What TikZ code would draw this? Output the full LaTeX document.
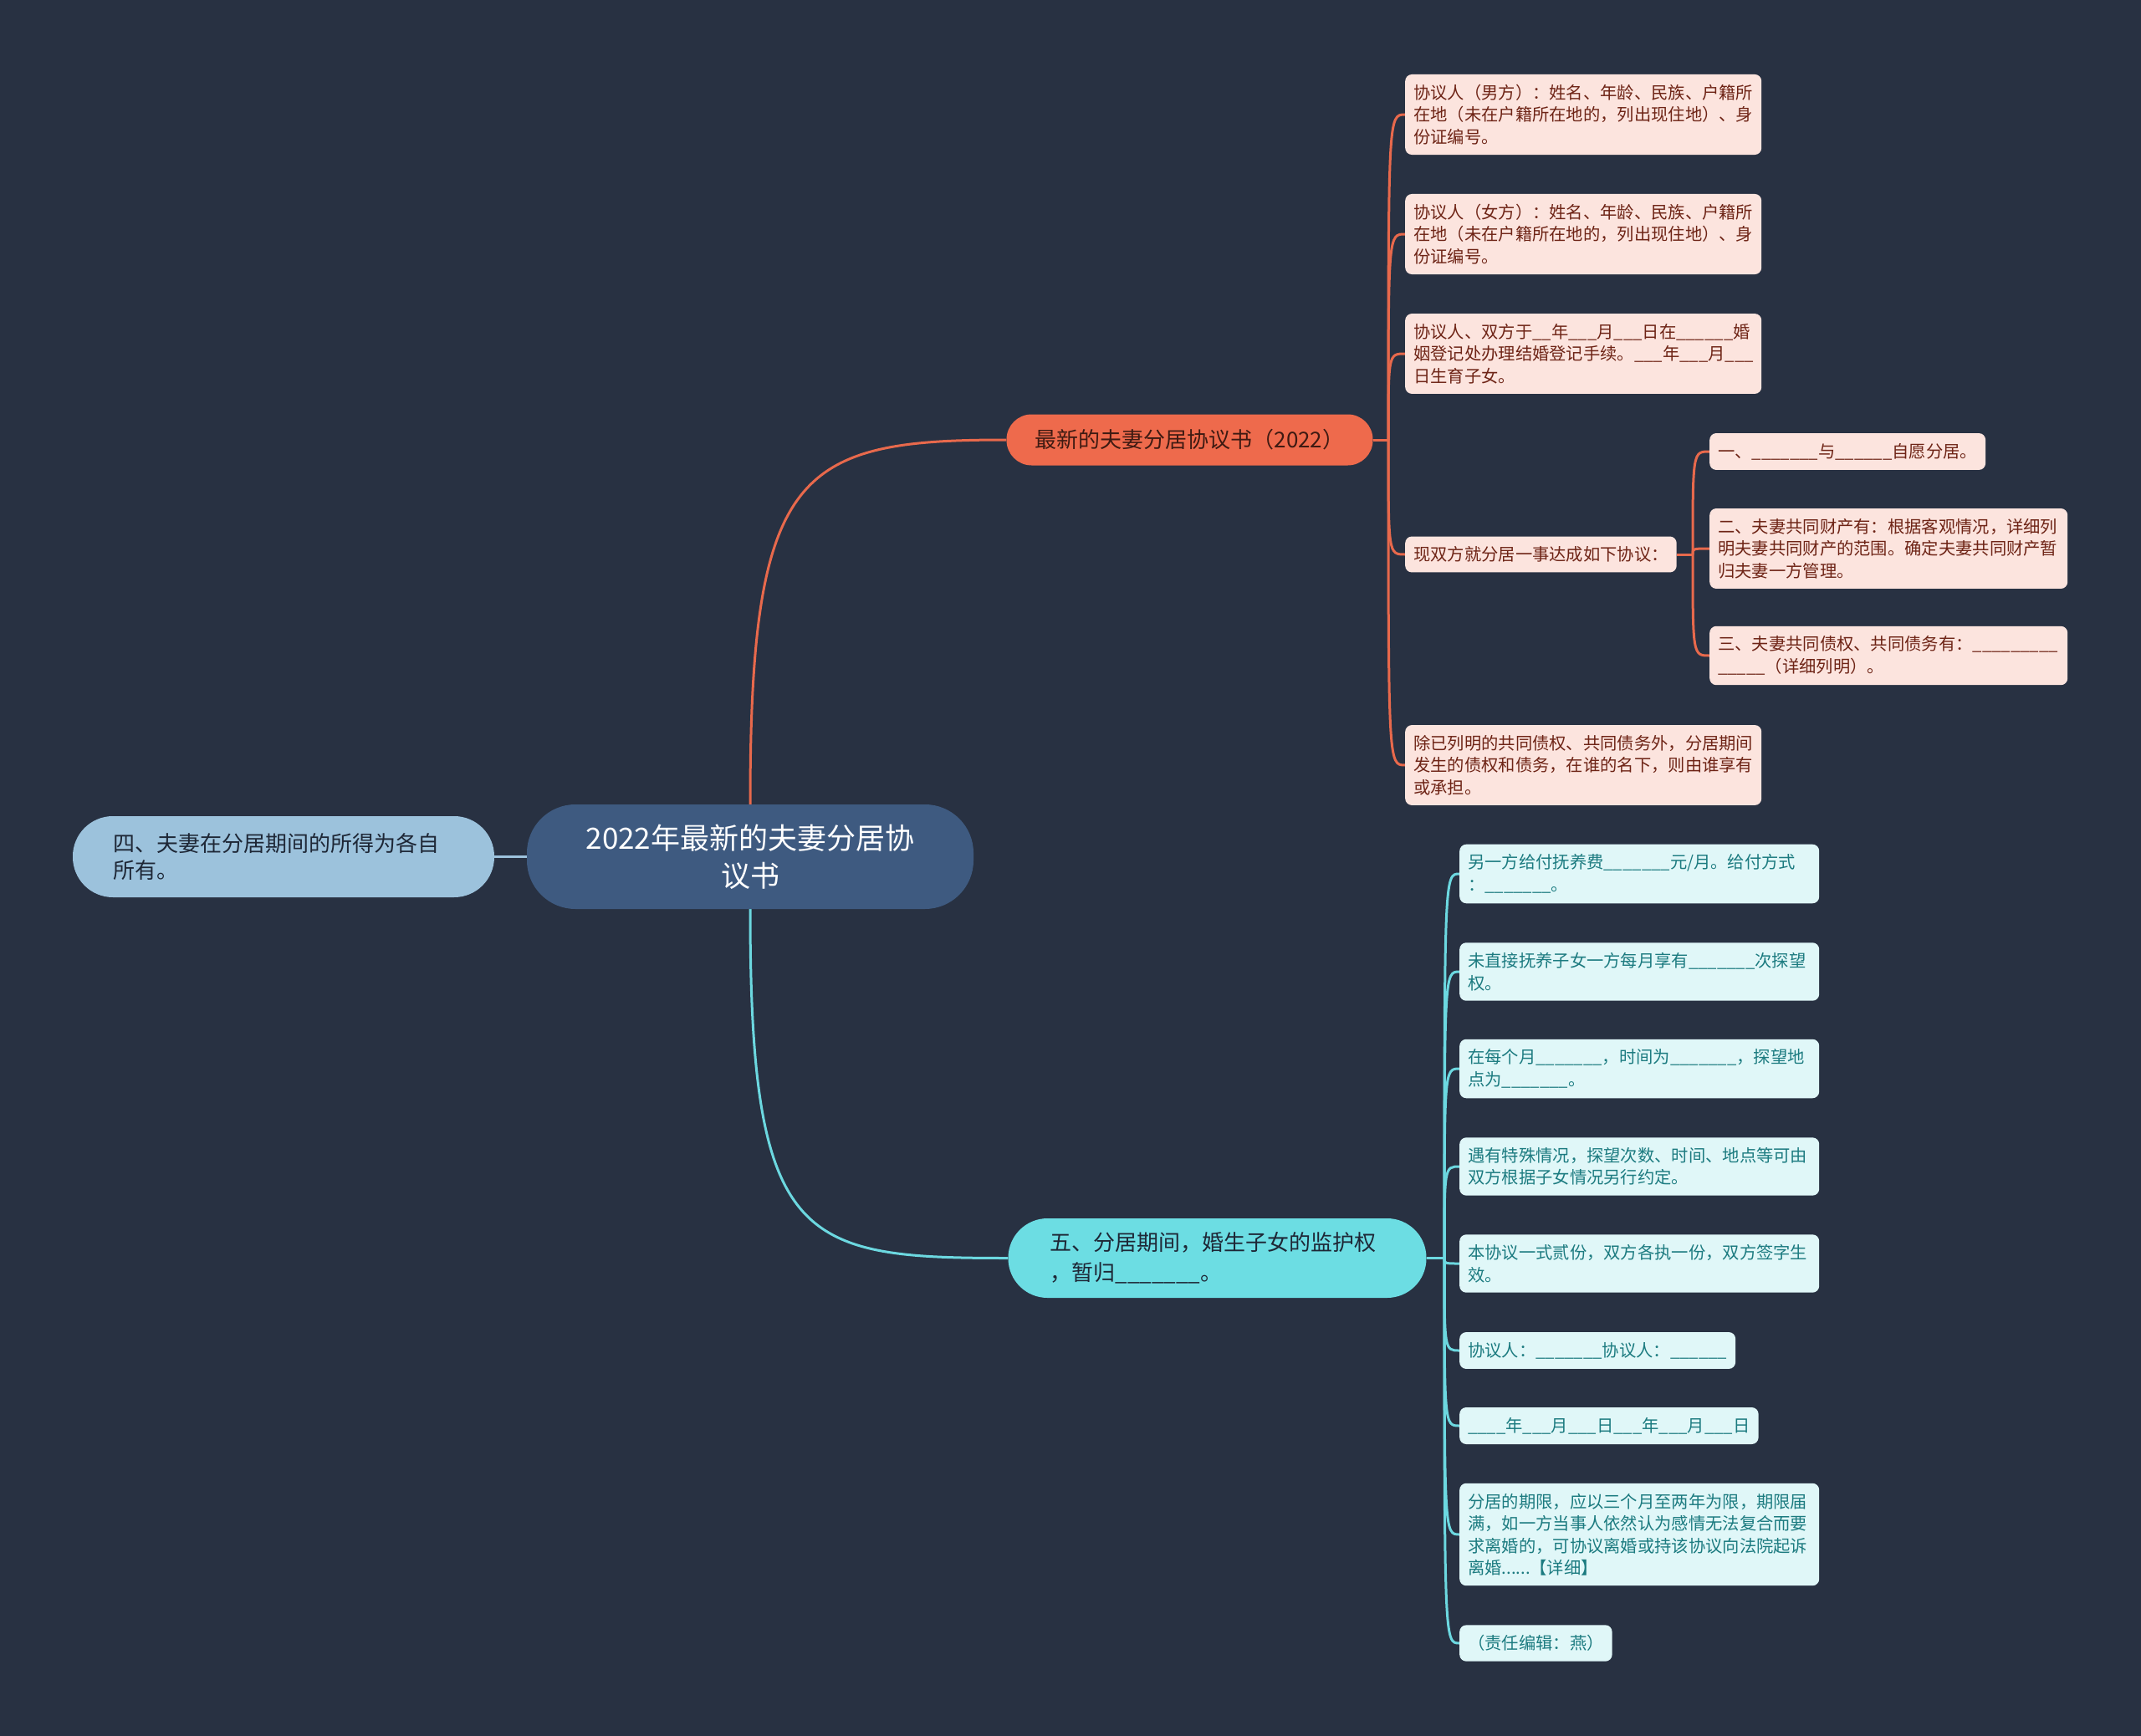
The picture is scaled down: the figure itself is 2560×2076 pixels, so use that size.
\documentclass[tikz,border=0pt]{standalone}
\usepackage{fontspec}
\newfontfamily\cjk{Noto Sans CJK SC}
\definecolor{bgc}{HTML}{283142}
\definecolor{cfill}{HTML}{3E5A80}
\definecolor{lfill}{HTML}{9CC2DC}
\definecolor{tfill}{HTML}{EE6A4C}
\definecolor{bfill}{HTML}{6CDDE3}
\definecolor{tleaf}{HTML}{FCE4DE}
\definecolor{tleaftext}{HTML}{6E2416}
\definecolor{bleaf}{HTML}{E0F7F8}
\definecolor{bleaftext}{HTML}{1C7B80}
\definecolor{darktext}{HTML}{1E2736}
\definecolor{tbtext}{HTML}{3E1A12}
\definecolor{tcol}{HTML}{E8694C}
\definecolor{bcol}{HTML}{6CD8E0}
\definecolor{lcol}{HTML}{9DC3DD}
\pgfdeclarelayer{bglayer}
\pgfdeclarelayer{edges}
\pgfsetlayers{bglayer,edges,main}
\tikzset{
  cnode/.style={fill=cfill, text=white, rounded corners=58pt, minimum width=534pt, minimum height=125pt, align=center, inner sep=0pt, font=\cjk\fontsize{35}{45}\selectfont},
  lnode/.style={fill=lfill, text=darktext, rounded corners=48pt, text width=408pt, inner xsep=48pt, minimum height=97pt, align=left, font=\cjk\fontsize{26}{32}\selectfont},
  tbnode/.style={fill=tfill, text=tbtext, rounded corners=30pt, minimum width=438pt, minimum height=61pt, align=center, inner sep=0pt, font=\cjk\fontsize{26}{32}\selectfont},
  bbnode/.style={fill=bfill, text=darktext, rounded corners=47pt, text width=400pt, inner xsep=50pt, minimum height=95pt, align=left, font=\cjk\fontsize{26}{36}\selectfont},
  tleafnode/.style={fill=tleaf, text=tleaftext, rounded corners=8pt, inner xsep=10pt, inner ysep=12pt, align=left, anchor=west, font=\cjk\fontsize{20.3}{26.5}\selectfont},
  bleafnode/.style={fill=bleaf, text=bleaftext, rounded corners=8pt, inner xsep=10pt, inner ysep=12pt, align=left, anchor=west, font=\cjk\fontsize{20.3}{26.5}\selectfont},
  twrap/.style={tleafnode, text width=406pt},
  swrap/.style={tleafnode, text width=408pt},
  bwrap/.style={bleafnode, text width=410pt},
  tline/.style={draw=tcol, line width=3pt},
  bline/.style={draw=bcol, line width=3pt},
  lline/.style={draw=lcol, line width=3pt},
}
\begin{document}
\begin{tikzpicture}[x=1pt,y=-1pt]
\begin{pgfonlayer}{bglayer}
\fill[bgc] (0,0) rectangle (2560,2076);
\end{pgfonlayer}
\useasboundingbox (0,0) rectangle (2560,2076);

% main nodes
\node[cnode] (c) at (897,1024.5) {2022年最新的夫妻分居协\\议书};
\node[lnode] (l) at (339,1024.5) {四、夫妻在分居期间的所得为各自\\所有。};
\node[tbnode] (tb) at (1422.5,526) {最新的夫妻分居协议书（2022）};
\node[bbnode] (bb) at (1455.5,1504.5) {五、分居期间，婚生子女的监护权\\，暂归\_\_\_\_\_\_\_。};

% junctions
\coordinate (tj) at (1660,526);
\coordinate (bj) at (1727,1504.5);

% top leaves
\node[twrap] (t1) at (1680,137) {协议人（男方）：姓名、年龄、民族、户籍所\\在地（未在户籍所在地的，列出现住地）、身\\份证编号。};
\node[twrap] (t2) at (1680,280) {协议人（女方）：姓名、年龄、民族、户籍所\\在地（未在户籍所在地的，列出现住地）、身\\份证编号。};
\node[twrap] (t3) at (1680,423) {协议人、双方于\_\_年\_\_\_月\_\_\_日在\_\_\_\_\_\_婚\\姻登记处办理结婚登记手续。\_\_\_年\_\_\_月\_\_\_\\日生育子女。};
\node[tleafnode] (t4) at (1680,663) {现双方就分居一事达成如下协议：};
\node[twrap] (t5) at (1680,915) {除已列明的共同债权、共同债务外，分居期间\\发生的债权和债务，在谁的名下，则由谁享有\\或承担。};

\coordinate (sj) at (2024,663);

% sub leaves
\node[tleafnode] (s1) at (2044,540) {一、\_\_\_\_\_\_\_与\_\_\_\_\_\_自愿分居。};
\node[swrap] (s2) at (2044,656) {二、夫妻共同财产有：根据客观情况，详细列\\明夫妻共同财产的范围。确定夫妻共同财产暂\\归夫妻一方管理。};
\node[swrap] (s3) at (2044,784) {三、夫妻共同债权、共同债务有：\_\_\_\_\_\_\_\_\_\\\_\_\_\_\_（详细列明）。};

% bottom leaves
\node[bwrap] (b1) at (1745,1045) {另一方给付抚养费\_\_\_\_\_\_\_元/月。给付方式\\：\_\_\_\_\_\_\_。};
\node[bwrap] (b2) at (1745,1162) {未直接抚养子女一方每月享有\_\_\_\_\_\_\_次探望\\权。};
\node[bwrap] (b3) at (1745,1278) {在每个月\_\_\_\_\_\_\_，时间为\_\_\_\_\_\_\_，探望地\\点为\_\_\_\_\_\_\_。};
\node[bwrap] (b4) at (1745,1395) {遇有特殊情况，探望次数、时间、地点等可由\\双方根据子女情况另行约定。};
\node[bwrap] (b5) at (1745,1511) {本协议一式贰份，双方各执一份，双方签字生\\效。};
\node[bleafnode] (b6) at (1745,1615) {协议人：\_\_\_\_\_\_\_协议人：\_\_\_\_\_\_};
\node[bleafnode] (b7) at (1745,1705) {\_\_\_\_年\_\_\_月\_\_\_日\_\_\_年\_\_\_月\_\_\_日};
\node[bwrap] (b8) at (1745,1835) {分居的期限，应以三个月至两年为限，期限届\\满，如一方当事人依然认为感情无法复合而要\\求离婚的，可协议离婚或持该协议向法院起诉\\离婚......【详细】};
\node[bleafnode] (b9) at (1745,1965) {（责任编辑：燕）};

\begin{pgfonlayer}{edges}
\draw[lline] (c.west) -- (l.east);
\draw[tline] (c.north) .. controls +(0,-400) and +(-250,0) .. (tb.west);
\draw[bline] (c.south) .. controls +(0,400) and +(-250,0) .. (bb.west);
\draw[tline] (tb.east) -- (tj);
\foreach \n in {t1,t2,t3,t4,t5}
  \draw[tline] (tj) .. controls (tj |- \n.west) .. (\n.west);
\draw[tline] (t4.east) -- (sj);
\foreach \n in {s1,s2,s3}
  \draw[tline] (sj) .. controls (sj |- \n.west) .. (\n.west);
\draw[bline] (bb.east) -- (bj);
\foreach \n in {b1,b2,b3,b4,b5,b6,b7,b8,b9}
  \draw[bline] (bj) .. controls (bj |- \n.west) .. (\n.west);
\end{pgfonlayer}
\end{tikzpicture}
\end{document}
